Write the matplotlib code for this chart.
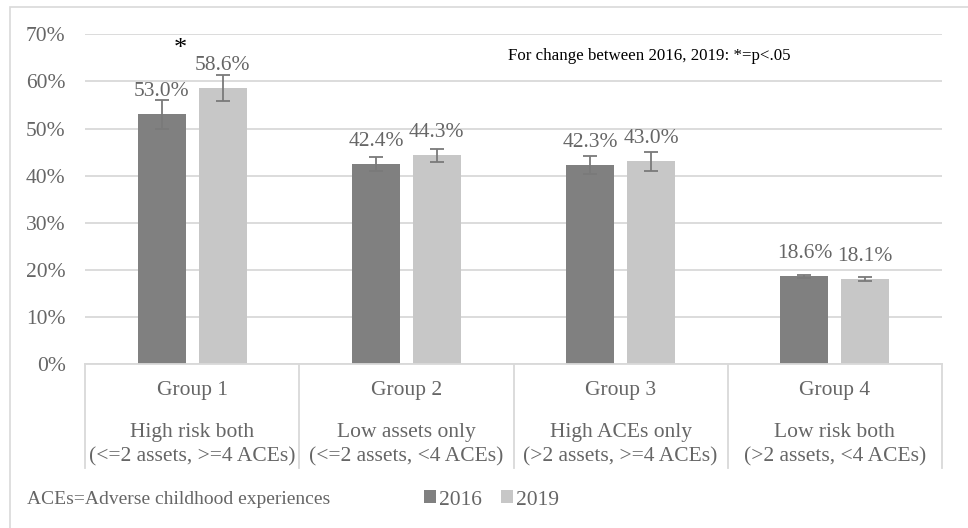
import matplotlib.pyplot as plt
import matplotlib.transforms as mtransforms
from matplotlib.patches import Rectangle
import numpy as np

plt.rcParams['font.family'] = ['Liberation Serif', 'DejaVu Serif']

groups = ['Group 1', 'Group 2', 'Group 3', 'Group 4']
descriptions = ['High risk both\n(<=2 assets, >=4 ACEs)',
                'Low assets only\n(<=2 assets, <4 ACEs)',
                'High ACEs only\n(>2 assets, >=4 ACEs)',
                'Low risk both\n(>2 assets, <4 ACEs)']
years = ['2016', '2019']
vals_2016 = [53.0, 42.4, 42.3, 18.6]
vals_2019 = [58.6, 44.3, 43.0, 18.1]
err_2016 = [3.0, 1.5, 1.95, 0.35]
err_2019 = [2.75, 1.4, 2.0, 0.45]
yticks = [0, 10, 20, 30, 40, 50, 60, 70]

text_col = '#666666'
grid_col = '#d9d9d9'
dark = '#808080'
light = '#c7c7c7'

W, H = 968, 528
fig = plt.figure(figsize=(W / 100, H / 100), dpi=100)
# light frame around the whole chart
fig.patches.append(Rectangle((10 / W, -0.1), 1.2, 1.1 - 7 / H, transform=fig.transFigure,
                             fill=False, edgecolor=grid_col, linewidth=1.2))

ax = fig.add_axes([85 / W, 1 - 364 / H, (942 - 85) / W, (364 - 34.3) / H])

x = np.arange(len(groups))
bw = 0.224
off = 0.142
vals = [np.array(vals_2016) / 100, np.array(vals_2019) / 100]
errs = [np.array(err_2016) / 100, np.array(err_2019) / 100]
for i, (yr, col) in enumerate(zip(years, [dark, light])):
    xs = x + (-off if i == 0 else off)
    ax.bar(xs, vals[i], width=bw, color=col, label=yr, zorder=2)
    ax.errorbar(xs, vals[i], yerr=errs[i], fmt='none', ecolor='#7a7a7a',
                elinewidth=1.3, capsize=5, capthick=1.3, zorder=3)
    for xx, v in zip(xs, vals[i]):
        ax.annotate(f'{v * 100:.1f}%', (xx, v), xytext=(0, 13), textcoords='offset points',
                    ha='center', va='baseline', fontsize=15.5, color=text_col)

ax.set_xlim(-0.5, len(groups) - 0.5)
ax.set_ylim(0, 0.7)
ax.set_yticks([t / 100 for t in yticks])
ax.set_yticklabels([f'{t}%' for t in yticks])
ax.tick_params(axis='y', length=0, pad=14, labelsize=15.5, labelcolor=text_col)
ax.set_xticks([])
ax.grid(axis='y', color=grid_col, linewidth=1.3, zorder=0)
for s in ['top', 'right', 'left']:
    ax.spines[s].set_visible(False)
ax.spines['bottom'].set_color(grid_col)
ax.spines['bottom'].set_linewidth(1.3)

# category separators and labels
trans = mtransforms.blended_transform_factory(ax.transData, ax.transAxes)
sep_bottom = -(468 - 364) / (364 - 34.3)
for b in np.arange(len(groups) + 1) - 0.5:
    ax.plot([b, b], [0, sep_bottom], transform=trans, color=grid_col,
            linewidth=1.3, clip_on=False)
for xx, g, d in zip(x, groups, descriptions):
    ax.text(xx, -(390 - 364) / 329.7, g, transform=trans, ha='center', va='center',
            fontsize=15.5, color=text_col)
    ax.text(xx, -(445 - 364) / 329.7, d, transform=trans, ha='center', va='center',
            fontsize=15.5, color=text_col, linespacing=1.38)

ax.text(-0.056, 0.668, '*', ha='center', va='center', fontsize=19, color='black')
ax.text((508 - 192) / 214.25, 0.653, 'For change between 2016, 2019: *=p<.05',
        ha='left', va='center', fontsize=12.2, color='black')

fig.text(27 / W, 1 - 500 / H, 'ACEs=Adverse childhood experiences', ha='left', va='center',
         fontsize=14, color=text_col)
leg = fig.legend(loc='center left', bbox_to_anchor=(424 / W, 1 - 500 / H), ncol=2,
                 frameon=False, handlelength=0.55, handleheight=0.55, handletextpad=0.15,
                 columnspacing=0.9, borderpad=0, borderaxespad=0, fontsize=15.5)
for t in leg.get_texts():
    t.set_color(text_col)

fig.savefig('out.png', dpi=100)
